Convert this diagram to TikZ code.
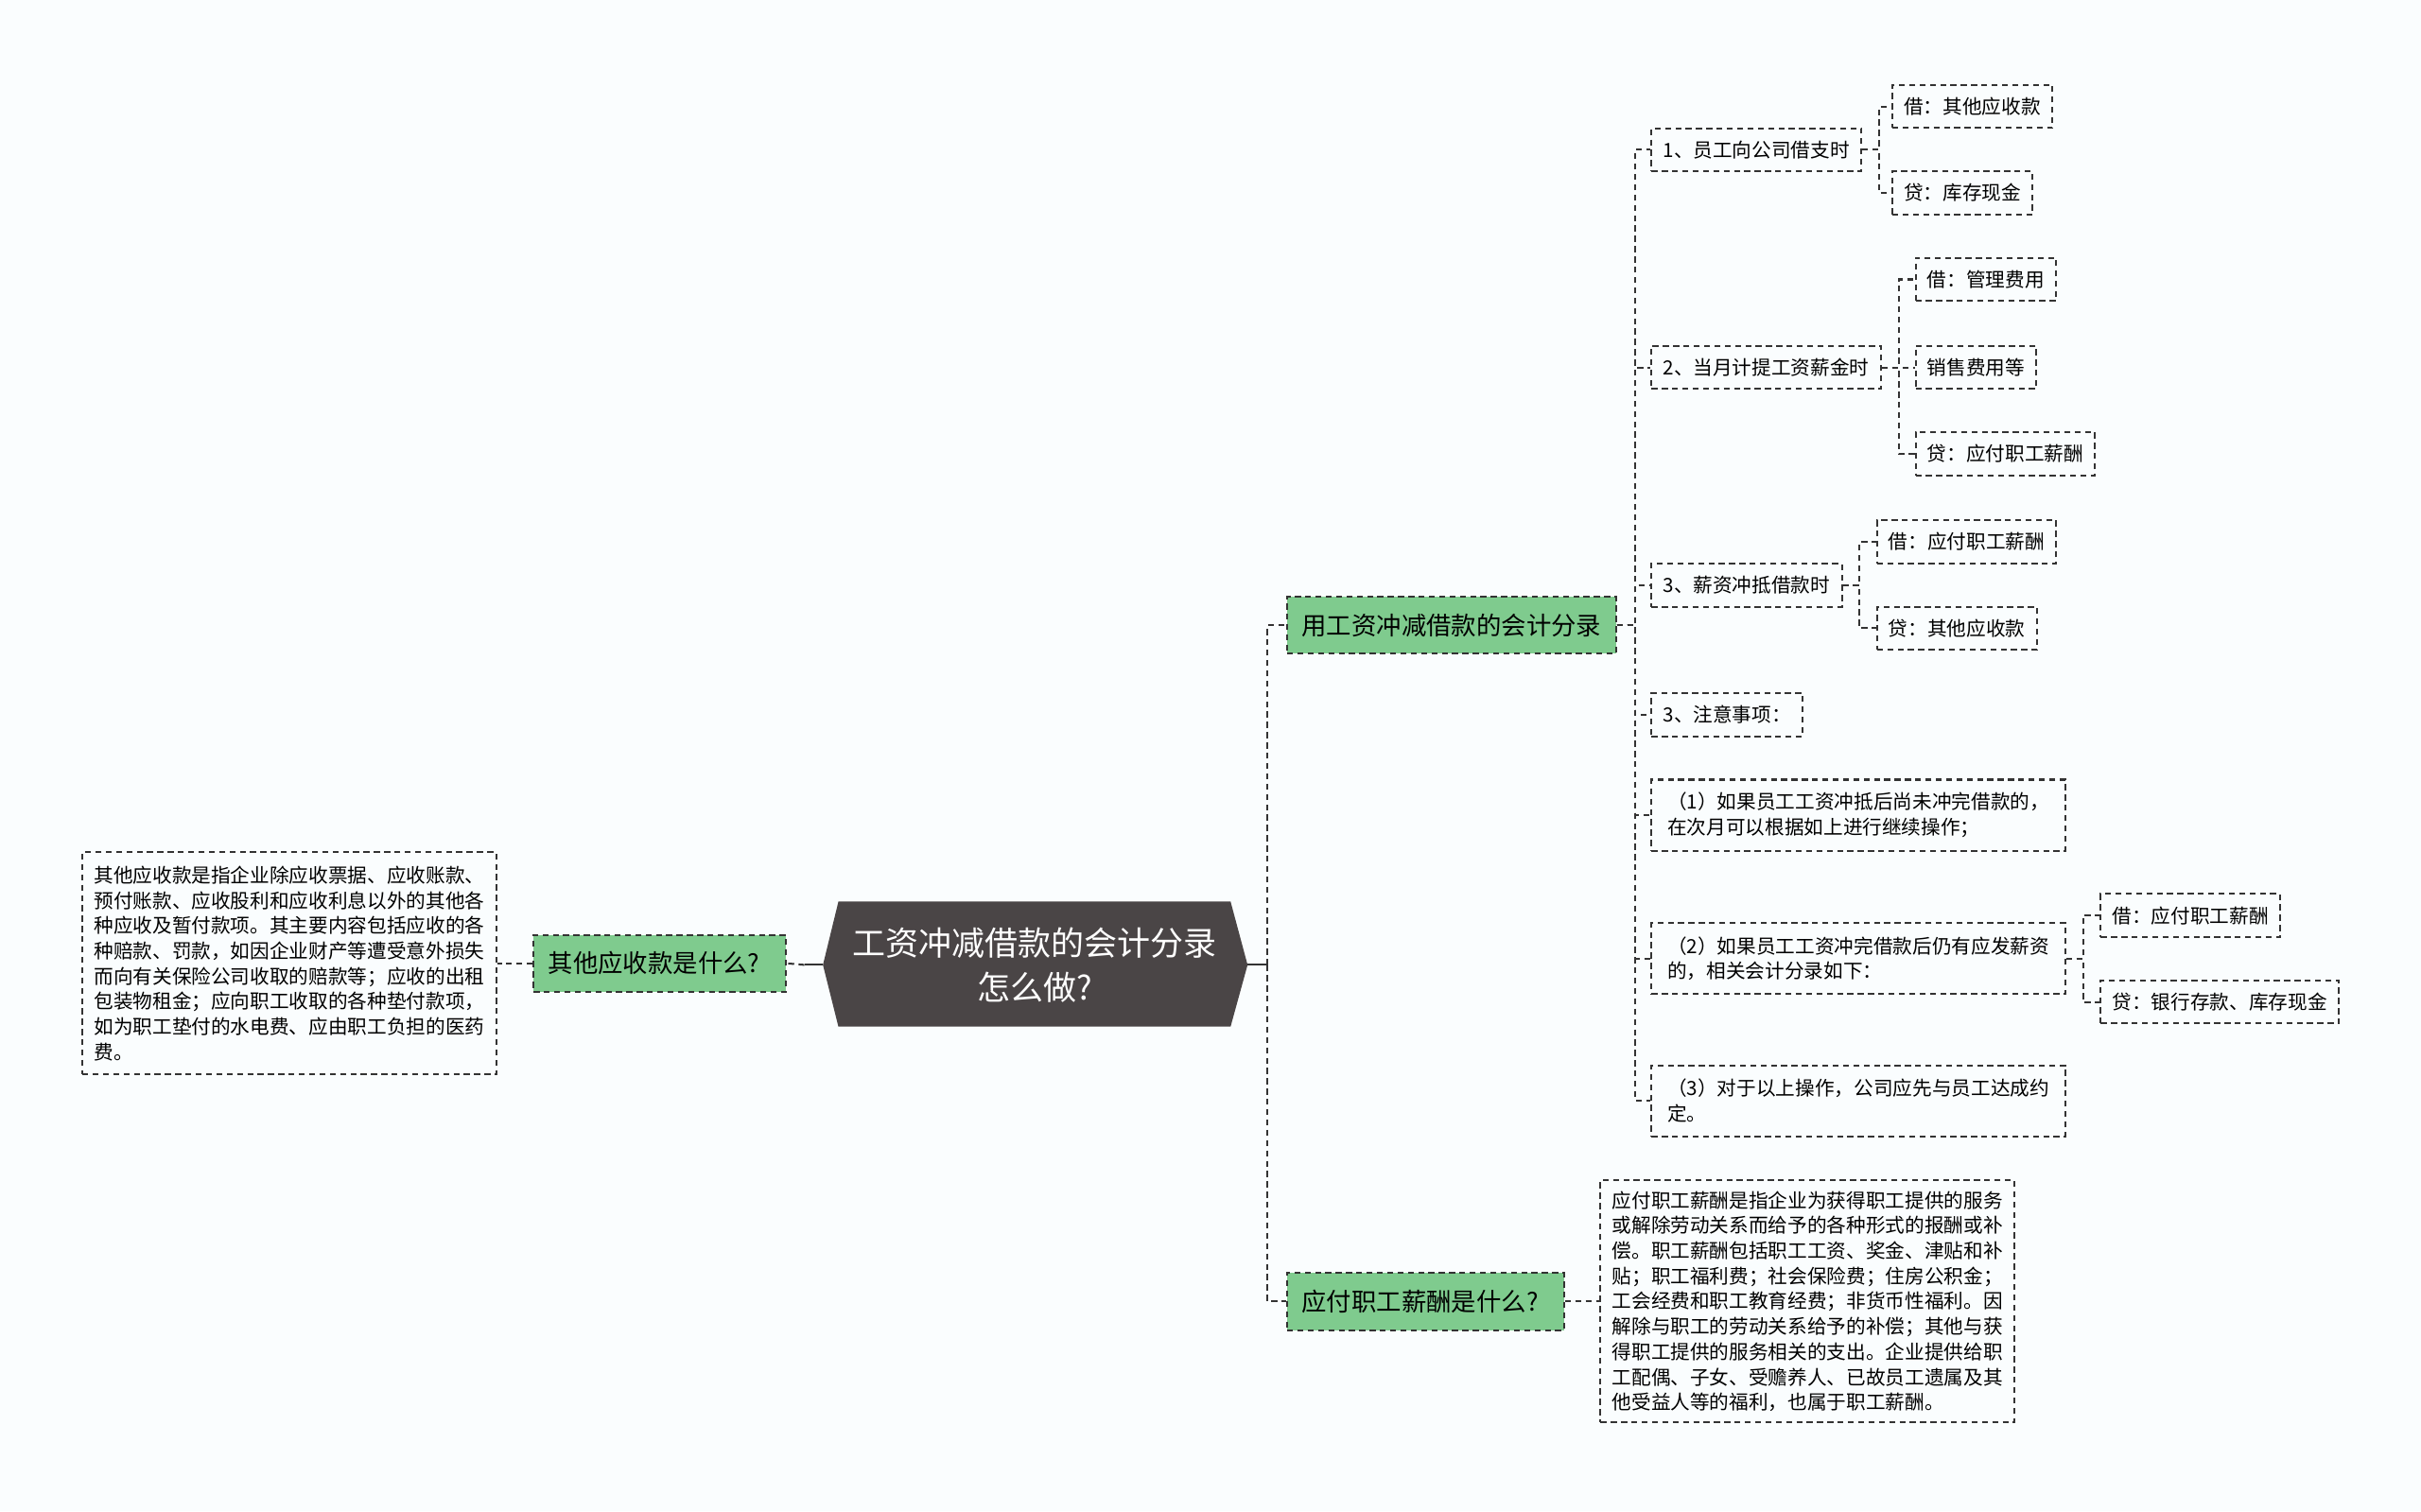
\documentclass[tikz,border=0pt]{standalone}
\usepackage{fontspec}
\setmainfont{Noto Sans CJK SC}
\usetikzlibrary{calc,positioning}

\definecolor{hexgray}{HTML}{4A4546}
\definecolor{leafgreen}{HTML}{7FCB8E}
\definecolor{linegray}{HTML}{333333}
\definecolor{paper}{HTML}{FAFDFE}

\begin{document}
\begin{tikzpicture}[x=0.02cm, y=-0.02cm,
    link/.style={draw=linegray, line width=0.7pt, dash pattern=on 2.2pt off 1.6pt},
    box/.style={draw=linegray, line width=0.7pt, dash pattern=on 2.2pt off 1.6pt,
      inner xsep=0.15cm, inner ysep=0pt, minimum height=0.56cm,
      font=\fontsize{7.2}{9.3}\selectfont, align=left, anchor=west},
    para/.style={box, minimum width=5.36cm, inner ysep=0.13cm},
    topic/.style={box, fill=leafgreen, minimum height=0.74cm, inner xsep=0.19cm,
      font=\fontsize{9.2}{11}\selectfont}]

    % First the paper
    \fill[paper] (0,0) rectangle (1568,979);
    \useasboundingbox (0,0) rectangle (1568,979);

    % Next, the root in the middle
    \coordinate (rootL) at (533,625);
    \coordinate (rootR) at (808,625);
    \fill[hexgray] (rootL) -- (543,584) -- (797,584) -- (rootR) -- (797,665) -- (543,665) -- cycle;
    \node[text=white, align=center, font=\fontsize{12.2}{16.4}\selectfont] (root) at (670,625)
      {工资冲减借款的会计分录\\怎么做?};

    % Topics on both sides
    \node[topic] (qL) at (345,624) {其他应收款是什么?\hspace{0.45em}};
    \node[topic] (hub) at (833,405) {用工资冲减借款的会计分录};
    \node[topic] (qR) at (833,843) {应付职工薪酬是什么?\hspace{0.45em}};

    % The two long texts
    \node[para, anchor=east, minimum height=2.88cm] (tL) at (322,624)
      {其他应收款是指企业除应收票据、应收账款、\\预付账款、应收股利和应收利息以外的其他各\\种应收及暂付款项。其主要内容包括应收的各\\种赔款、罚款，如因企业财产等遭受意外损失\\而向有关保险公司收取的赔款等；应收的出租\\包装物租金；应向职工收取的各种垫付款项，\\如为职工垫付的水电费、应由职工负担的医药\\费。};
    \node[para, minimum height=3.14cm] (tR) at (1036,843)
      {应付职工薪酬是指企业为获得职工提供的服务\\或解除劳动关系而给予的各种形式的报酬或补\\偿。职工薪酬包括职工工资、奖金、津贴和补\\贴；职工福利费；社会保险费；住房公积金；\\工会经费和职工教育经费；非货币性福利。因\\解除与职工的劳动关系给予的补偿；其他与获\\得职工提供的服务相关的支出。企业提供给职\\工配偶、子女、受赡养人、已故员工遗属及其\\他受益人等的福利，也属于职工薪酬。};

    % The steps under the hub
    \node[box] (s1) at (1069,97) {1、员工向公司借支时};
    \node[box] (s2) at (1069,238) {2、当月计提工资薪金时};
    \node[box] (s3) at (1069,379) {3、薪资冲抵借款时};
    \node[box] (s4) at (1069,463) {3、注意事项：};
    \node[para, minimum height=0.92cm, inner ysep=0pt] (s5) at (1069,528)
      {（1）如果员工工资冲抵后尚未冲完借款的，\\在次月可以根据如上进行继续操作；};
    \node[para, minimum height=0.92cm, inner ysep=0pt] (s6) at (1069,621)
      {（2）如果员工工资冲完借款后仍有应发薪资\\的，相关会计分录如下：};
    \node[para, minimum height=0.92cm, inner ysep=0pt] (s7) at (1069,713)
      {（3）对于以上操作，公司应先与员工达成约\\定。};

    % The entries
    \node[box] (d1a) at (1225,69) {借：其他应收款};
    \node[box] (d1b) at (1225,125) {贷：库存现金};
    \node[box] (d2a) at (1240,181) {借：管理费用};
    \node[box] (d2b) at (1240,238) {销售费用等};
    \node[box] (d2c) at (1240,294) {贷：应付职工薪酬};
    \node[box] (d3a) at (1215,351) {借：应付职工薪酬};
    \node[box] (d3b) at (1215,407) {贷：其他应收款};
    \node[box] (d6a) at (1360,593) {借：应付职工薪酬};
    \node[box] (d6b) at (1360,649) {贷：银行存款、库存现金};

    % Connectors from the root
    \draw[linegray, line width=0.7pt] (rootL) -- ++(-12,0) coordinate (lj);
    \draw[link] (lj) -- (qL.east);
    \draw[link] (qL.west) -- (tL.east);
    \draw[linegray, line width=0.7pt] (rootR) -- ++(13,0) coordinate (rj);
    \draw[link] (rj) |- (hub.west);
    \draw[link] (rj) |- (qR.west);
    \draw[link] (qR.east) -- (tR.west);

    % Hub to steps, steps to entries
    \foreach \s in {s1, s2, s3, s4, s5, s6, s7}
      \draw[link] (hub.east) -- ++(12,0) |- (\s.west);
    \foreach \s/\d in {s1/d1a, s1/d1b, s2/d2a, s2/d2b, s2/d2c, s3/d3a, s3/d3b, s6/d6a, s6/d6b}
      \draw[link] (\s.east) -- ++(11,0) |- (\d.west);
  \end{tikzpicture}
\end{document}
